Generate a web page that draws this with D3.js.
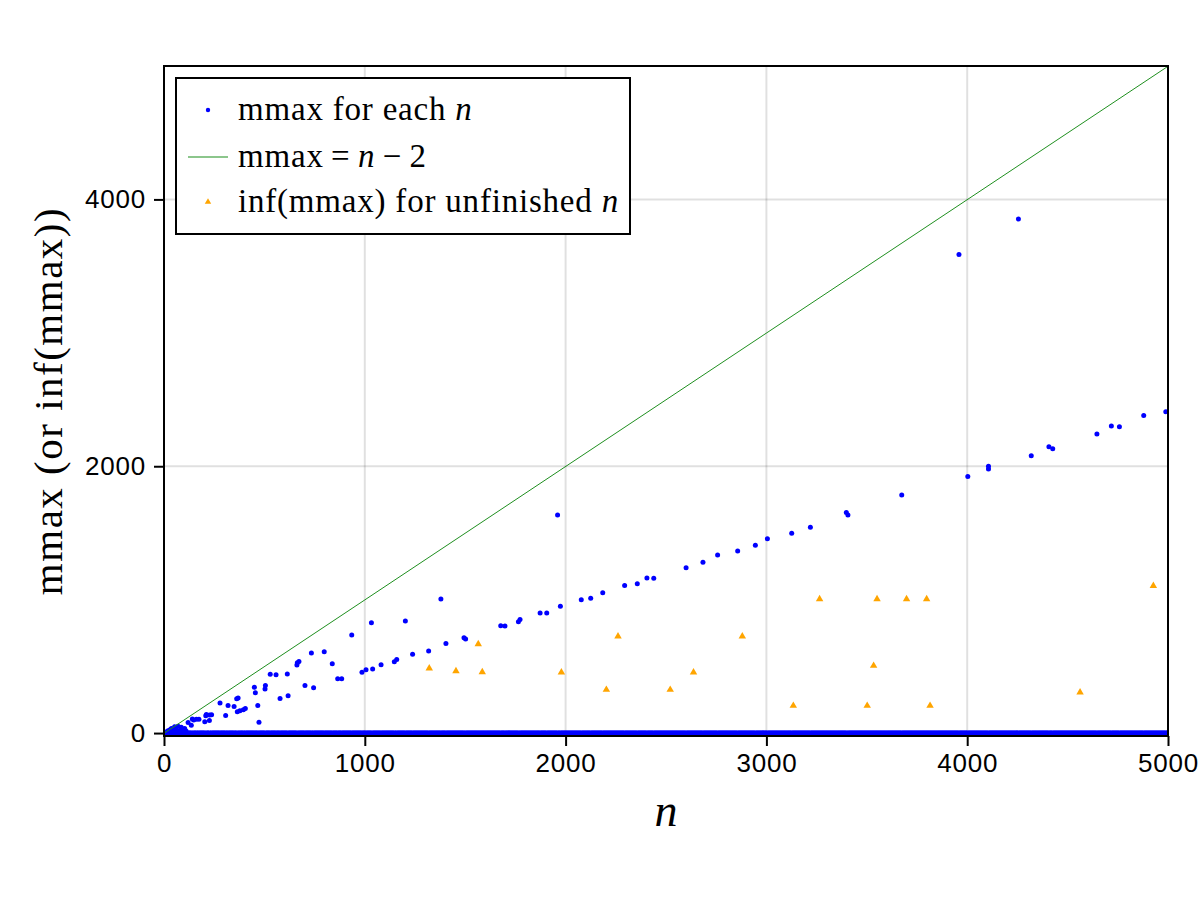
<!DOCTYPE html>
<html>
<head>
<meta charset="utf-8">
<script src="https://cdn.jsdelivr.net/npm/d3@7"></script>
<style>
  body { margin: 0; background: #fff; }
  svg { display: block; }
</style>
</head>
<body>
<svg id="chart" width="1200" height="900"></svg>
<script>
// n values where a nonzero mmax was found, and the mmax for each
var blueN = [10, 20, 30, 37, 45, 53, 60, 70, 78, 86, 95, 103, 110, 120, 136, 141, 148, 161, 174,
    203, 208, 211, 226, 227, 237, 279, 307, 319, 349, 362, 365, 369, 378, 395, 405, 450, 455,
    467, 473, 503, 505, 529, 558, 578, 614, 618, 662, 664, 672, 702, 734, 745, 798, 838, 865,
    885, 935, 986, 1006, 1033, 1039, 1081, 1147, 1159, 1202, 1238, 1318, 1379, 1404, 1494,
    1502, 1677, 1698, 1765, 1773, 1873, 1906, 1960, 1974, 2078, 2125, 2185, 2294, 2357, 2405,
    2439, 2600, 2684, 2757, 2857, 2945, 3005, 3126, 3219, 3398, 3406, 3674, 3959, 4003, 4106,
    4106, 4255, 4319, 4407, 4426, 4646, 4718, 4758, 4879, 4989];
var blueM = [8, 18, 25, 35, 15, 47, 30, 52, 20, 43, 25, 35, 15, 80, 58, 105, 97, 103, 103,
    85, 130, 140, 95, 135, 137, 225, 132, 207, 200, 257, 160, 262, 167, 175, 185, 343, 302,
    207, 82, 330, 357, 440, 437, 260, 442, 280, 510, 527, 537, 357, 600, 340, 610, 519, 407,
    407, 735, 455, 475, 827, 480, 512, 535, 552, 840, 590, 615, 1004, 672, 715,
    705, 805, 802, 834, 852, 900, 900, 1634, 950, 1000, 1010, 1052, 1107, 1120, 1162,
    1160, 1240, 1280, 1334, 1364, 1407, 1457, 1497, 1542, 1654, 1634, 1784, 3588, 1924, 2000,
    1979, 3853, 2079, 2146, 2131, 2241, 2301, 2296, 2381, 2409];

// every other n up to 5000 sits on mmax = 0 (the thick band along the bottom)
var zeroN = d3.range(1, 5001).filter(function (n) { return blueN.indexOf(n) < 0; });

// unfinished n and the lower bound found so far
var orangeN = [1321, 1454, 1565, 1585, 1979, 2203, 2261, 2521, 2637, 2880, 3134, 3265,
    3502, 3534, 3551, 3698, 3798, 3815, 4562, 4927];
var orangeM = [485, 465, 667, 457, 455, 325, 725, 325, 455, 725, 205, 1004,
    205, 505, 1004, 1004, 1004, 205, 305, 1104];

// the reference line mmax = n - 2, by its two ends
var lineN = [0, 5000];
var lineM = [-2, 4998];

var xTicks = [0, 1000, 2000, 3000, 4000, 5000];
var yTicks = [0, 2000, 4000];

var legendLabels = ["mmax for each ", "mmax\u2009=\u2009", "inf(mmax) for unfinished "];

var svg = d3.select("#chart");
var plotLeft = 164, plotRight = 1168, plotTop = 66, plotBottom = 736;

var x = d3.scaleLinear().domain([0, 5000]).range([plotLeft, plotRight]);
var y = d3.scaleLinear().domain([-22, 5000]).range([plotBottom, plotTop]);

svg.append("defs").append("clipPath").attr("id", "plotclip")
    .append("rect")
    .attr("x", plotLeft).attr("y", plotTop)
    .attr("width", plotRight - plotLeft).attr("height", plotBottom - plotTop);

// grid
var grid = svg.append("g");
grid.selectAll(".gx").data(xTicks).enter().append("line")
    .attr("x1", function (d) { return x(d); })
    .attr("x2", function (d) { return x(d); })
    .attr("y1", plotTop).attr("y2", plotBottom)
    .attr("stroke", "rgba(0,0,0,0.12)")
    .attr("stroke-width", 2);
grid.selectAll(".gy").data(yTicks).enter().append("line")
    .attr("x1", plotLeft).attr("x2", plotRight)
    .attr("y1", function (d) { return y(d); })
    .attr("y2", function (d) { return y(d); })
    .attr("stroke", "rgba(0,0,0,0.12)")
    .attr("stroke-width", 2);

var plot = svg.append("g").attr("clip-path", "url(#plotclip)");

plot.append("g").selectAll("circle").data(zeroN).enter().append("circle")
    .attr("cx", function (d) { return x(d); })
    .attr("cy", y(0))
    .attr("r", 2.4)
    .attr("fill", "blue");

plot.append("g").selectAll("circle").data(blueN).enter().append("circle")
    .attr("cx", function (d) { return x(d); })
    .attr("cy", function (d, i) { return y(blueM[i]); })
    .attr("r", 2.5)
    .attr("fill", "blue");

plot.append("line")
    .attr("x1", x(lineN[0])).attr("y1", y(lineM[0]))
    .attr("x2", x(lineN[1])).attr("y2", y(lineM[1]))
    .attr("stroke", "#1f8f1f")
    .attr("stroke-width", 1);

var tri = d3.symbol().type(d3.symbolTriangle).size(24);
plot.append("g").selectAll("path").data(orangeN).enter().append("path")
    .attr("transform", function (d, i) { return "translate(" + x(d) + "," + y(orangeM[i]) + ")"; })
    .attr("d", tri)
    .attr("fill", "orange");

// spines
svg.append("rect")
    .attr("x", plotLeft).attr("y", plotTop)
    .attr("width", plotRight - plotLeft).attr("height", plotBottom - plotTop)
    .attr("fill", "none")
    .attr("stroke", "black")
    .attr("stroke-width", 2);

var xAxis = svg.append("g")
    .attr("transform", "translate(0," + plotBottom + ")")
    .call(d3.axisBottom(x).tickValues(xTicks).tickSize(10).tickPadding(8).tickFormat(d3.format("d")));
var yAxis = svg.append("g")
    .attr("transform", "translate(" + plotLeft + ",0)")
    .call(d3.axisLeft(y).tickValues(yTicks).tickSize(10).tickPadding(8).tickFormat(d3.format("d")));

[xAxis, yAxis].forEach(function (a) {
    a.select(".domain").remove();
    a.selectAll(".tick line").attr("stroke", "black").attr("stroke-width", 2);
    a.selectAll(".tick text")
        .attr("font-family", "'Liberation Sans', Arial, sans-serif")
        .attr("font-size", 26)
        .attr("letter-spacing", 0.8)
        .attr("fill", "black");
});

// axis labels
svg.append("text")
    .attr("x", (plotLeft + plotRight) / 2)
    .attr("y", 826)
    .attr("text-anchor", "middle")
    .attr("font-family", "'Liberation Serif', serif")
    .attr("font-style", "italic")
    .attr("font-size", 46)
    .text("n");

svg.append("text")
    .attr("transform", "translate(62," + ((plotTop + plotBottom) / 2) + ") rotate(-90)")
    .attr("text-anchor", "middle")
    .attr("font-family", "'Liberation Serif', serif")
    .attr("font-size", 41)
    .attr("letter-spacing", 1.5)
    .text("mmax (or inf(mmax))");

// legend
var legend = svg.append("g");
legend.append("rect")
    .attr("x", 176).attr("y", 78)
    .attr("width", 454).attr("height", 156)
    .attr("fill", "white")
    .attr("stroke", "black")
    .attr("stroke-width", 2);

var rowY = [110, 157, 202];
legend.append("circle").attr("cx", 208).attr("cy", rowY[0]).attr("r", 2.2).attr("fill", "blue");
legend.append("line")
    .attr("x1", 188).attr("x2", 228)
    .attr("y1", rowY[1]).attr("y2", rowY[1])
    .attr("stroke", "green").attr("stroke-opacity", 0.45).attr("stroke-width", 2);
legend.append("path")
    .attr("transform", "translate(208," + rowY[2] + ")")
    .attr("d", d3.symbol().type(d3.symbolTriangle).size(18))
    .attr("fill", "orange");

legendLabels.forEach(function (label, i) {
    var t = legend.append("text")
        .attr("x", 238)
        .attr("y", rowY[i] + 10)
        .attr("font-family", "'Liberation Serif', serif")
        .attr("font-size", 33)
        .attr("letter-spacing", 0.8)
        .text(label);
    t.append("tspan").attr("font-style", "italic").text("n");
    if (i == 1) {
        t.append("tspan").text("\u2009\u2212\u20092");
    }
});
</script>
</body>
</html>
